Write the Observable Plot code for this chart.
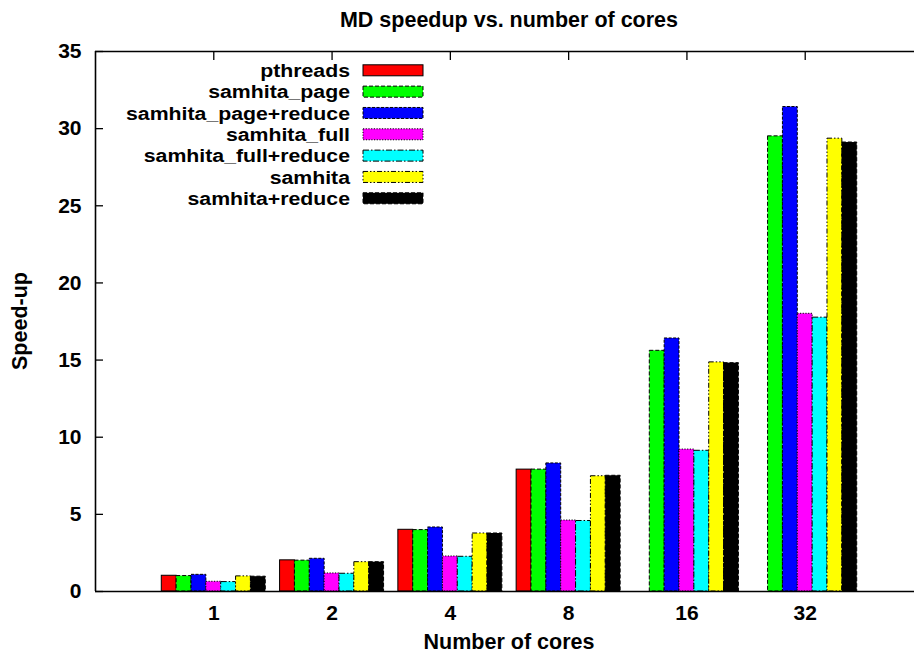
<!DOCTYPE html>
<html>
<head>
<meta charset="utf-8">
<script src="https://cdn.jsdelivr.net/npm/d3@7"></script>
<script src="https://cdn.jsdelivr.net/npm/@observablehq/plot@0.6"></script>
<style>
  html, body { margin: 0; padding: 0; background: #fff; overflow: hidden; }
  #chart { width: 914px; height: 653px; overflow: hidden; }
</style>
</head>
<body>
<div id="chart"></div>
<script>
// Core counts (x categories)
const cores = ["1", "2", "4", "8", "16", "32"];

// Series names, fills and border dash styles
const seriesNames = ["pthreads", "samhita_page", "samhita_page+reduce", "samhita_full", "samhita_full+reduce", "samhita", "samhita+reduce"];
const seriesColors = ["#ff0000", "#00ff00", "#0000ff", "#ff00ff", "#00ffff", "#ffff00", "#000000"];
const seriesDashes = ["none", "4,2", "3,1.5", "1.2,1.5", "6,2,1.5,2", "5,2,1.5,2,1.5,2", "4,2"];

// Speed-up per series, one value per core count (null = not measured)
const pthreads          = [1.02, 2.02, 4.00, 7.90, null, null];
const samhitaPage       = [1.00, 2.00, 3.98, 7.90, 15.60, 29.50];
const samhitaPageRed    = [1.08, 2.12, 4.15, 8.30, 16.40, 31.40];
const samhitaFull       = [0.63, 1.17, 2.27, 4.60, 9.20, 18.00];
const samhitaFullRed    = [0.61, 1.15, 2.25, 4.57, 9.12, 17.75];
const samhita           = [0.98, 1.90, 3.76, 7.47, 14.85, 29.35];
const samhitaRed        = [0.96, 1.90, 3.76, 7.50, 14.80, 29.10];
const seriesValues = [pthreads, samhitaPage, samhitaPageRed, samhitaFull, samhitaFullRed, samhita, samhitaRed];

const yTicks = [0, 5, 10, 15, 20, 25, 30, 35];

// Each group occupies a unit on the x axis; bars are laid side by side
const barW = 0.1256;
const nS = seriesNames.length;

const rows = [];
seriesValues.forEach((vals, s) => {
  vals.forEach((v, i) => {
    if (v != null) rows.push({series: s, core: i, value: v, x1: i + (s - nS / 2) * barW, x2: i + (s - nS / 2 + 1) * barW});
  });
});

// The x range runs from -1 to 6; the window shows the part up to 914px
const W = 914, H = 653, marginLeft = 95, fullRight = 923;
const xMax = -1 + 7 * (W - marginLeft) / (fullRight - marginLeft);

const barMarks = seriesNames.map((name, s) =>
  Plot.rectY(rows.filter(d => d.series === s), {
    x1: "x1", x2: "x2", y1: 0, y2: "value",
    fill: seriesColors[s], stroke: "#000", strokeWidth: 1,
    strokeDasharray: seriesDashes[s] === "none" ? null : seriesDashes[s]
  })
);

const plot = Plot.plot({
  width: W,
  height: H,
  marginLeft,
  marginRight: 0,
  marginTop: 51,
  marginBottom: 62,
  style: {fontFamily: "'Liberation Sans', Arial, Helvetica, sans-serif", fontSize: "21px", fontWeight: "bold", background: "#fff", color: "#000"},
  x: {domain: [-1, xMax]},
  y: {domain: [0, 35]},
  marks: [
    // inward ticks on the left and top borders
    Plot.axisY({anchor: "left", ticks: yTicks, tickSize: 8, dx: 8, fill: "none", label: null, strokeWidth: 1.3}),
    Plot.axisX({anchor: "top", ticks: d3.range(cores.length), tickSize: 8, dy: 8, fill: "none", label: null, strokeWidth: 1.3}),
    // tick labels
    Plot.axisY({anchor: "left", ticks: yTicks, tickSize: 0, tickPadding: 14, label: null}),
    Plot.axisX({anchor: "bottom", ticks: d3.range(cores.length), tickSize: 0, tickPadding: 14, tickFormat: i => cores[i], label: null}),
    ...barMarks,
    // plot border
    Plot.ruleX([-1], {stroke: "#000", strokeWidth: 1.6}),
    Plot.ruleY([0, 35], {stroke: "#000", strokeWidth: 1.6})
  ]
});

document.getElementById("chart").appendChild(plot);

const svg = d3.select(plot);
const xs = plot.scale("x"), ys = plot.scale("y");
const cx = xs.apply(2.5);
const cy = (ys.range[0] + ys.range[1]) / 2;

// Title and axis titles
svg.append("text").attr("x", cx).attr("y", 27).attr("text-anchor", "middle")
  .attr("font-size", 21.5).attr("font-weight", "bold").text("MD speedup vs. number of cores");
svg.append("text").attr("x", cx).attr("y", 649).attr("text-anchor", "middle")
  .attr("font-size", 21.5).attr("font-weight", "bold").text("Number of cores");
svg.append("text").attr("transform", `translate(27,${cy}) rotate(-90)`).attr("text-anchor", "middle")
  .attr("font-size", 21.5).attr("font-weight", "bold").text("Speed-up");

// Legend: entries are stacked tightly, so the text is slightly widened
const lg = svg.append("g");
seriesNames.forEach((name, s) => {
  const yc = 70.3 + s * 21.33;
  lg.append("text").attr("transform", `translate(350,${yc + 6.6}) scale(1.12,1)`).attr("text-anchor", "end")
    .attr("font-size", 19).attr("font-weight", "bold").text(name);
  lg.append("rect").attr("x", 363).attr("y", yc - 5.5).attr("width", 60).attr("height", 11)
    .attr("fill", seriesColors[s]).attr("stroke", "#000").attr("stroke-width", 1)
    .attr("stroke-dasharray", seriesDashes[s] === "none" ? null : seriesDashes[s]);
});
</script>
</body>
</html>
